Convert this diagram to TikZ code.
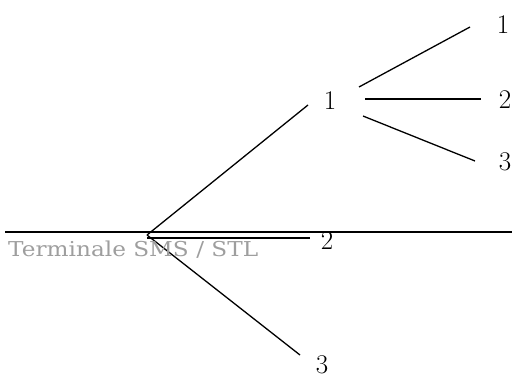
\documentclass[tikz,border=0pt]{standalone}
\usepackage{fontspec}
\newfontfamily\capfont{DejaVu Serif}
\begin{document}
\begin{tikzpicture}[x=1pt,y=-1pt,
  branch/.style={line width=1.3pt},
  lbl/.style={font=\fontsize{27}{29}\selectfont, inner sep=0pt},
  caption/.style={font=\capfont\fontsize{20.5}{22}\selectfont, text=black!38, inner sep=0pt, anchor=base west}]
\useasboundingbox (0,0) rectangle (512,378);
% axis line
\coordinate (axL) at (5,232);
\coordinate (axR) at (512,232);
\draw[branch] (axL) -- (axR);
% root
\coordinate (r) at (147,235);
\coordinate (r2) at (147,238);
% first level
\coordinate (e1) at (308,105);
\coordinate (e2) at (310,238);
\coordinate (e3) at (300,355);
\node[lbl] (n1) at (330,101) {1};
\node[lbl] (n2) at (327,241) {2};
\node[lbl] (n3) at (322,365) {3};
\draw[branch] (r) -- (e1);
\draw[branch] (r2) -- (e2);
\draw[branch] (r) -- (e3);
% second level
\coordinate (s1) at (359,87);
\coordinate (s2) at (365,99);
\coordinate (s3) at (363,116);
\coordinate (t1) at (470,27);
\coordinate (t2) at (481,99);
\coordinate (t3) at (475,161);
\node[lbl] (m1) at (503,25) {1};
\node[lbl] (m2) at (505,100) {2};
\node[lbl] (m3) at (505,162) {3};
\draw[branch] (s1) -- (t1);
\draw[branch] (s2) -- (t2);
\draw[branch] (s3) -- (t3);
% caption
\node[caption] (cap) at (8,256) {\resizebox{250pt}{\height}{Terminale SMS / STL}};
\end{tikzpicture}
\end{document}
